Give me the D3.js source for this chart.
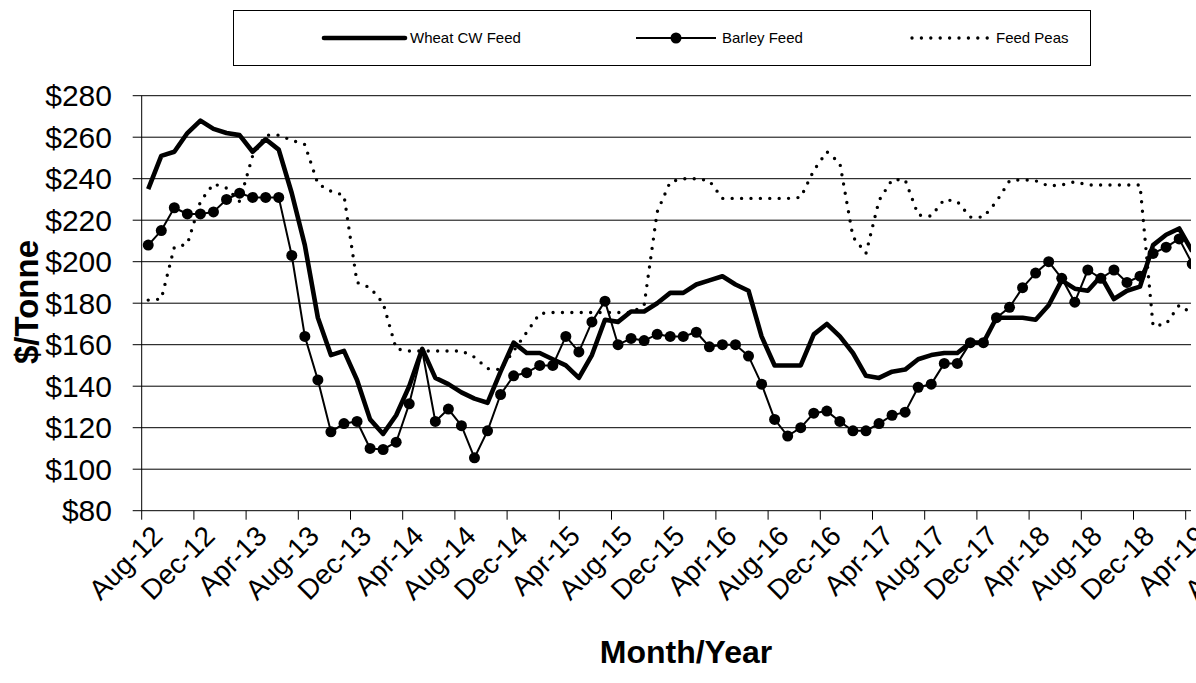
<!DOCTYPE html>
<html>
<head>
<meta charset="utf-8">
<script src="https://cdn.jsdelivr.net/npm/d3@7"></script>
<style>
  html, body { margin: 0; padding: 0; background: #fff; }
  svg { display: block; }
  text { font-family: "Liberation Sans", Arial, sans-serif; fill: #000; }
</style>
</head>
<body>
<svg id="chart" width="1196" height="683"></svg>
<script>
// ---- Data (monthly, Aug-12 .. Apr-19) ----
const startMonth = new Date(2012, 7, 1);
const endMonth = new Date(2019, 8, 1); // axis continues to Aug-19 (cropped)
const fmt = d3.timeFormat("%b-%y");
const categories = d3.timeMonths(startMonth, endMonth).map(fmt);

const seriesNames = ["Wheat CW Feed", "Barley Feed", "Feed Peas"];

const wheat = [235, 251, 253, 262, 268, 264, 262, 261, 253, 259, 254, 233, 208, 173, 155, 157,
  143, 124, 117, 126, 140, 158, 144, 141, 137, 134, 132, 147, 161, 156, 156, 153,
  150, 144, 155, 172, 171, 176, 176, 180, 185, 185, 189, 191, 193, 189, 186, 164,
  150, 150, 150, 165, 170, 164, 156, 145, 144, 147, 148, 153, 155, 156, 156, 161,
  161, 173, 173, 173, 172, 179, 191, 187, 186, 193, 182, 186, 188, 208, 213, 216, 205];

const barley = [208, 215, 226, 223, 223, 224, 230, 233, 231, 231, 231, 203, 164, 143, 118, 122,
  123, 110, 109.5, 113, 131.5, 157, 123, 129, 121, 105.5, 118.5, 136, 145, 146.5, 150, 150,
  164, 156.5, 171, 181, 160, 163, 162, 165, 164, 164, 166, 159, 160, 160, 154.5, 141,
  124, 116, 120, 127, 128, 123, 118.5, 118.5, 122, 126, 127.5, 139.5, 141, 151, 151, 161,
  161, 173, 178, 187.5, 194.5, 200, 192, 180.5, 196, 192, 196, 190, 193, 204, 207, 211, 199];
// month whose barley marker is not shown in the original
const barleyNoMarker = ["May-14"];

const peas = [181.5, 182, 207, 208.5, 229, 237.5, 235.5, 229, 251, 261, 261, 258.5, 256.5, 237.5, 234, 232,
  190, 187.5, 180, 158, 157, 157, 157, 157, 157, 154, 148.5, 148, 157, 166, 175, 175.5,
  175.5, 175.5, 175.5, 175.5, 175.5, 175.5, 179, 224, 238.5, 240, 240, 239, 230.5, 230.5, 230.5, 230.5,
  230.5, 230.5, 231, 244, 253, 247.5, 212, 204, 229.5, 239.5, 239.5, 222.5, 222, 230, 229, 221.5,
  221.5, 229, 239, 239.5, 239, 236.5, 237, 238.5, 237, 237, 237, 237, 237, 169, 170, 179, 175];

const yTicks = [80, 100, 120, 140, 160, 180, 200, 220, 240, 260, 280];
const xTickLabels = ["Aug-12", "Dec-12", "Apr-13", "Aug-13", "Dec-13", "Apr-14", "Aug-14", "Dec-14",
  "Apr-15", "Aug-15", "Dec-15", "Apr-16", "Aug-16", "Dec-16", "Apr-17", "Aug-17", "Dec-17",
  "Apr-18", "Aug-18", "Dec-18", "Apr-19", "Aug-19"];

// ---- Layout ----
const plotLeft = 141.7, plotTop = 95.7, plotBottom = 510.7, plotRight = 1191;
const monthW = 13.05;

const svg = d3.select("#chart");

const x = d3.scaleBand()
  .domain(categories)
  .range([plotLeft, plotLeft + categories.length * monthW])
  .padding(0);
const bw = x.bandwidth();
const cx = c => x(c) + bw / 2;

const y = d3.scaleLinear().domain([80, 280]).range([plotBottom, plotTop]);

// clip for plot area (chart is cropped at right)
svg.append("defs").append("clipPath").attr("id", "plotClip")
  .append("rect").attr("x", 0).attr("y", 0).attr("width", plotRight).attr("height", 683);

const gClip = svg.append("g").attr("clip-path", "url(#plotClip)");

// gridlines (extend left as tick marks)
gClip.append("g").selectAll("line").data(yTicks).join("line")
  .attr("x1", plotLeft - 9).attr("x2", plotRight)
  .attr("y1", d => y(d)).attr("y2", d => y(d))
  .attr("stroke", "#000").attr("stroke-width", 1);

// y axis line
svg.append("line")
  .attr("x1", plotLeft).attr("x2", plotLeft)
  .attr("y1", y(280)).attr("y2", y(80))
  .attr("stroke", "#000").attr("stroke-width", 1);

// x ticks at category boundaries (every 4 months)
const tickCats = categories.filter(c => xTickLabels.includes(c));
gClip.append("g").selectAll("line").data(tickCats).join("line")
  .attr("x1", d => x(d)).attr("x2", d => x(d))
  .attr("y1", plotBottom).attr("y2", plotBottom + 9)
  .attr("stroke", "#000").attr("stroke-width", 1);

// y tick labels
svg.append("g").selectAll("text").data(yTicks).join("text")
  .attr("x", 112).attr("y", d => y(d))
  .attr("dy", "0.35em")
  .attr("text-anchor", "end")
  .attr("font-size", 30)
  .text(d => "$" + d);

// x tick labels rotated
svg.append("g").selectAll("text").data(tickCats).join("text")
  .attr("text-anchor", "end")
  .attr("font-size", 28)
  .attr("transform", d => `translate(${cx(d) + 16},${plotBottom + 27}) rotate(-45)`)
  .text(d => d);

// axis titles
svg.append("text")
  .attr("transform", `translate(38,302) rotate(-90)`)
  .attr("text-anchor", "middle")
  .attr("font-size", 33).attr("font-weight", "bold")
  .text("$/Tonne");

svg.append("text")
  .attr("x", 686).attr("y", 663)
  .attr("text-anchor", "middle")
  .attr("font-size", 32).attr("font-weight", "bold")
  .text("Month/Year");

// ---- Series ----
const nData = wheat.length;
const dataCats = categories.slice(0, nData);
const line = d3.line().x((d, i) => cx(dataCats[i])).y(d => y(d));

const gLines = gClip.append("g");

gLines.append("path").datum(peas)
  .attr("d", line).attr("fill", "none")
  .attr("stroke", "#000").attr("stroke-width", 3.4)
  .attr("stroke-linecap", "round")
  .attr("stroke-dasharray", "0 9.4");

gLines.append("path").datum(wheat)
  .attr("d", line).attr("fill", "none")
  .attr("stroke", "#000").attr("stroke-width", 4.6)
  .attr("stroke-linejoin", "round");

gLines.append("path").datum(barley)
  .attr("d", line).attr("fill", "none")
  .attr("stroke", "#000").attr("stroke-width", 2)
  .attr("stroke-linejoin", "round");

const barleyPts = barley.map((v, i) => ({ c: dataCats[i], v }))
  .filter(p => !barleyNoMarker.includes(p.c));
gLines.append("g").selectAll("circle").data(barleyPts).join("circle")
  .attr("cx", p => cx(p.c)).attr("cy", p => y(p.v))
  .attr("r", 5.5).attr("fill", "#000");

// ---- Legend ----
const lg = svg.append("g");
lg.append("rect").attr("x", 233.5).attr("y", 10.5).attr("width", 857).attr("height", 55)
  .attr("fill", "#fff").attr("stroke", "#000").attr("stroke-width", 1);
const legY = 38;
const legendItems = [
  { name: seriesNames[0], x1: 324, x2: 405, tx: 410, type: "wheat" },
  { name: seriesNames[1], x1: 636, x2: 716, tx: 722, type: "barley" },
  { name: seriesNames[2], x1: 912, x2: 990, tx: 996, type: "peas" }
];
legendItems.forEach(it => {
  const l = lg.append("line").attr("x1", it.x1).attr("x2", it.x2)
    .attr("y1", legY).attr("y2", legY).attr("stroke", "#000");
  if (it.type === "wheat") l.attr("stroke-width", 4.6).attr("stroke-linecap", "round");
  if (it.type === "barley") {
    l.attr("stroke-width", 2);
    lg.append("circle").attr("cx", (it.x1 + it.x2) / 2).attr("cy", legY).attr("r", 5.5);
  }
  if (it.type === "peas") l.attr("stroke-width", 3.4).attr("stroke-linecap", "round").attr("stroke-dasharray", "0 9.4");
  lg.append("text").attr("x", it.tx).attr("y", legY).attr("dy", "0.35em")
    .attr("font-size", 15).text(it.name);
});
</script>
</body>
</html>
